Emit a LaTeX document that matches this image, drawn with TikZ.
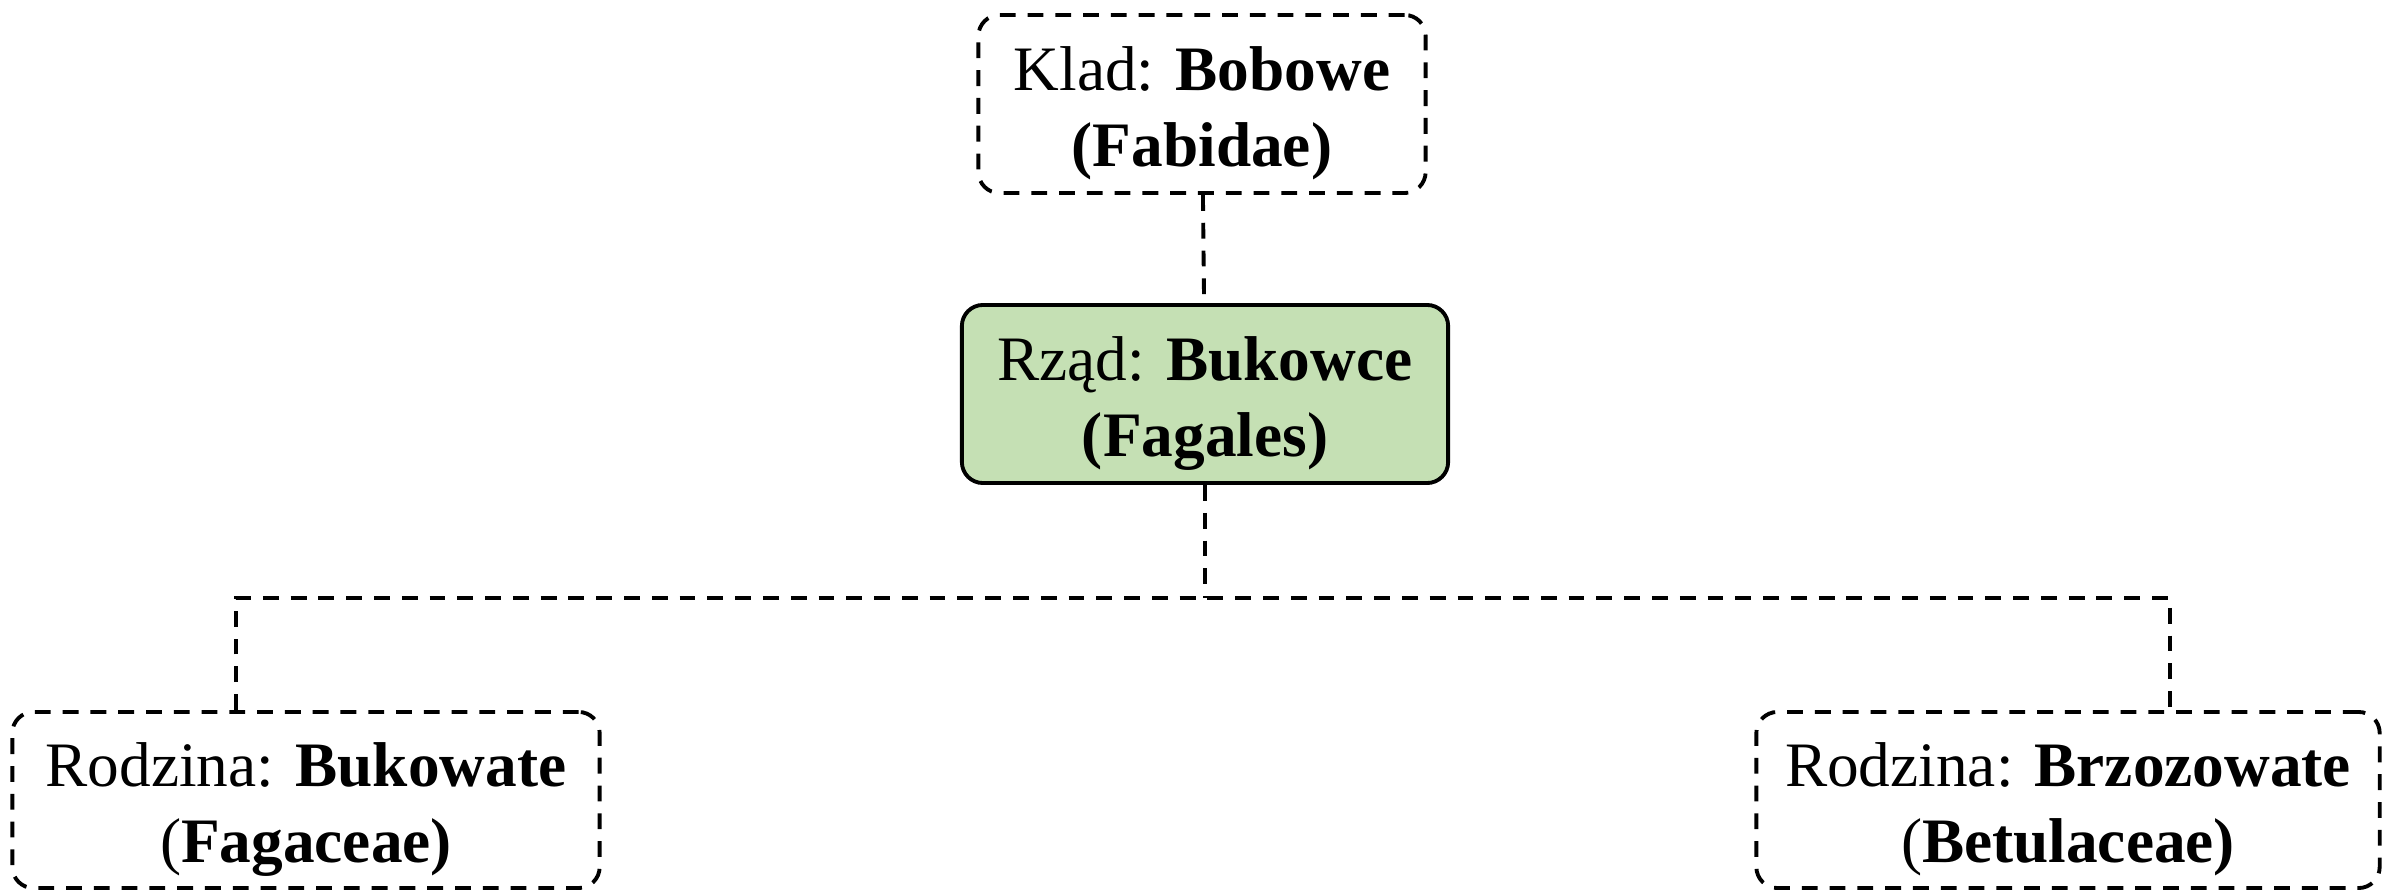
\documentclass[tikz,border=0pt]{standalone}
\usepackage{fontspec}
\setmainfont{Liberation Serif}
\usetikzlibrary{positioning}
\definecolor{rzadgreen}{HTML}{C5E0B4}
\newcommand{\topstrut}{\rule{0pt}{18pt}}
\tikzset{
taxon/.style={draw=black, rounded corners=6pt, line width=1.1pt, align=center, inner sep=0pt, font=\fontsize{18}{21.6}\selectfont},
cladebox/.style={taxon, dash pattern=on 4.5pt off 3.4pt},
rzadbox/.style={taxon, fill=rzadgreen},
link/.style={line width=1.1pt, dash pattern=on 4.5pt off 3.4pt}}

\begin{document}
\begin{tikzpicture}[x=0.01cm, y=-0.01cm]
\useasboundingbox (0,0) rectangle (2382,891);

\node[cladebox, minimum width=4.47cm, minimum height=1.78cm] (klad) at (1202,104) {\topstrut Klad: \textbf{Bobowe}\\\textbf{(Fabidae)}};
\node[rzadbox, minimum width=4.86cm, minimum height=1.78cm] (rzad) at (1205,394) {\topstrut Rząd: \textbf{Bukowce}\\\textbf{(Fagales)}};
\node[cladebox, minimum width=5.87cm, minimum height=1.76cm] (bukowate) at (306,800) {\topstrut Rodzina: \textbf{Bukowate}\\(\textbf{Fagaceae)}};
\node[cladebox, minimum width=6.23cm, minimum height=1.76cm] (brzozowate) at (2068,800) {\topstrut Rodzina: \textbf{Brzozowate}\\(\textbf{Betulaceae)}};

\coordinate (dropL) at (236,598);
\coordinate (dropR) at (2170,598);

\draw[link] (klad) -- (rzad);
\draw[link] (rzad.south) -- (rzad.south |- dropL);
\draw[link] (bukowate.north -| dropL) -- (dropL) -- (dropR) -- (brzozowate.north -| dropR);

\end{tikzpicture}
\end{document}
